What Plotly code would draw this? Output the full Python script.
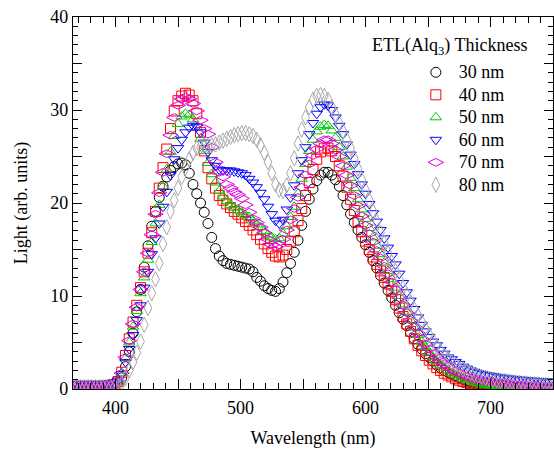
import plotly.graph_objects as go

# Wavelength grid (nm)
wavelength = list(range(366, 751, 3))

# Emission spectra (arb. units) for each ETL thickness
s30 = [0.3,0.3,0.3,0.3,0.3,0.3,0.3,0.3,0.3,0.35,0.4,0.5,
       0.7,1.2,2.4,4.0,6.0,8.3,10.7,13.1,15.4,17.5,19.1,20.6,
       21.8,22.8,23.5,23.9,24.2,24.3,24.1,23.2,22.0,21.0,20.0,19.0,
       17.8,16.3,15.1,14.3,13.8,13.5,13.4,13.3,13.2,13.1,13.0,12.9,
       12.6,12.0,11.6,11.1,10.8,10.6,10.5,10.8,11.5,12.5,13.5,14.7,
       16.0,17.6,19.1,20.4,21.5,22.4,23.0,23.3,23.3,23.0,22.5,21.8,
       20.8,19.8,18.8,17.9,17.1,16.3,15.5,14.7,13.8,13.0,12.2,11.4,
       10.6,9.8,9.0,8.2,7.5,6.8,6.1,5.4,4.8,4.3,3.8,3.4,
       3.0,2.6,2.3,2.0,1.8,1.6,1.4,1.2,1.05,0.9,0.8,0.7,
       0.6,0.55,0.5,0.45,0.4,0.35,0.3,0.3,0.25,0.25,0.2,0.2,
       0.2,0.2,0.15,0.15,0.15,0.1,0.1,0.1,0.1]

s40 = [0.3,0.3,0.3,0.3,0.3,0.3,0.3,0.3,0.3,0.35,0.4,0.5,
       0.8,1.8,3.6,5.4,7.2,9.0,10.9,12.6,14.6,16.8,19.1,21.6,
       23.8,25.8,28.0,29.9,31.0,31.5,31.8,31.6,31.0,29.6,27.6,25.6,
       23.8,22.6,21.6,20.8,20.3,19.9,19.5,19.1,18.8,18.4,18.0,17.6,
       17.1,16.6,16.1,15.6,15.1,14.7,14.3,14.2,14.4,15.0,15.9,16.9,
       18.1,19.4,20.8,22.2,23.6,24.7,25.5,25.9,25.9,25.6,25.0,24.0,
       22.9,21.7,20.4,19.2,18.0,16.9,15.9,15.0,14.2,13.4,12.7,12.0,
       11.3,10.5,9.6,8.7,7.8,7.0,6.2,5.4,4.7,4.1,3.6,3.1,
       2.7,2.3,2.0,1.7,1.5,1.3,1.1,0.95,0.8,0.7,0.6,0.5,
       0.4,0.35,0.3,0.3,0.25,0.2,0.2,0.15,0.15,0.1,0.1,0.1,
       0.1,0.1,0.1,0.05,0.05,0.05,0.05,0.05,0.05]

s50 = [0.3,0.3,0.3,0.3,0.3,0.3,0.3,0.3,0.3,0.35,0.4,0.5,
       0.8,1.7,3.3,5.0,6.7,8.4,10.3,12.0,13.9,15.8,17.8,19.8,
       21.8,23.6,25.5,27.2,28.5,29.3,29.6,29.5,29.0,28.1,26.9,25.6,
       24.3,23.1,22.2,21.3,20.7,20.2,19.8,19.5,19.2,19.0,18.7,18.5,
       18.1,17.7,17.4,17.0,16.6,16.3,16.1,16.2,16.7,17.5,18.5,19.6,
       21.0,22.6,24.2,25.6,26.8,27.7,28.2,28.4,28.3,27.8,27.0,26.0,
       25.0,23.9,22.7,21.6,20.4,19.3,18.3,17.3,16.3,15.4,14.5,13.6,
       12.7,11.8,10.9,10.0,9.1,8.3,7.4,6.6,5.8,5.1,4.5,3.9,
       3.4,3.0,2.6,2.3,2.0,1.7,1.5,1.3,1.1,0.95,0.8,0.7,
       0.6,0.5,0.45,0.4,0.35,0.3,0.25,0.2,0.2,0.15,0.15,0.15,
       0.1,0.1,0.1,0.1,0.1,0.1,0.1,0.1,0.1]

s60 = [0.5,0.5,0.5,0.5,0.5,0.5,0.5,0.5,0.5,0.55,0.6,0.7,
       0.9,1.6,2.9,4.3,5.8,7.4,9.0,10.9,12.6,14.5,16.2,17.8,
       19.6,21.2,23.0,24.7,25.9,26.8,27.6,28.1,28.3,28.2,27.6,26.5,
       25.5,24.6,24.0,23.6,23.5,23.5,23.5,23.4,23.3,23.2,23.0,22.6,
       22.2,21.7,21.1,20.4,19.6,18.8,18.1,17.8,18.2,19.3,20.6,21.9,
       23.2,24.6,26.0,27.4,28.6,29.6,30.3,30.6,30.5,30.0,29.2,28.3,
       27.4,26.3,25.2,24.2,23.1,22.0,21.0,19.9,18.9,18.0,17.1,16.2,
       15.2,14.3,13.4,12.4,11.4,10.4,9.5,8.6,7.7,6.9,6.2,5.6,
       5.1,4.7,4.2,3.8,3.4,3.2,2.9,2.7,2.4,2.2,2.0,1.85,
       1.7,1.6,1.5,1.45,1.4,1.3,1.25,1.2,1.15,1.1,1.05,1.0,
       1.0,0.95,0.9,0.9,0.85,0.85,0.8,0.8,0.8]

s70 = [0.3,0.3,0.3,0.3,0.3,0.3,0.3,0.3,0.3,0.35,0.4,0.5,
       0.8,1.7,3.4,5.2,7.0,8.8,10.7,12.6,14.6,16.6,18.8,21.1,
       23.3,25.3,27.3,29.2,30.5,31.2,31.4,31.2,30.7,29.9,28.9,28.0,
       27.4,26.0,24.4,23.3,22.8,22.0,21.6,21.2,20.9,20.5,19.8,19.0,
       18.3,17.9,17.4,16.8,16.1,15.5,15.3,15.5,16.1,17.1,18.2,19.4,
       20.6,21.7,23.0,24.2,25.1,25.8,26.4,26.8,26.8,26.4,25.7,25.0,
       24.0,23.0,21.9,20.8,19.7,18.6,17.6,16.7,15.8,14.9,14.1,13.2,
       12.4,11.5,10.7,9.8,9.0,8.2,7.4,6.7,6.0,5.4,4.8,4.3,
       3.8,3.4,3.0,2.7,2.4,2.1,1.9,1.7,1.5,1.35,1.2,1.1,
       1.0,0.9,0.85,0.8,0.75,0.7,0.65,0.6,0.55,0.5,0.5,0.45,
       0.4,0.4,0.35,0.35,0.3,0.3,0.3,0.25,0.25]

s80 = [0.2,0.2,0.2,0.2,0.2,0.2,0.2,0.2,0.2,0.2,0.2,0.2,
       0.3,0.6,1.2,2.0,2.9,3.9,5.1,6.9,8.7,10.3,11.8,13.5,
       15.6,17.4,19.1,20.3,21.6,22.8,23.8,24.7,25.4,25.9,26.0,26.1,
       26.1,26.2,26.3,26.5,26.7,26.9,27.1,27.3,27.4,27.5,27.5,27.4,
       27.2,26.8,26.2,25.4,24.4,23.2,22.0,21.4,21.3,21.9,23.2,24.8,
       26.4,27.9,29.2,30.3,31.1,31.5,31.6,31.5,31.1,30.3,29.5,28.6,
       27.7,26.8,25.9,24.8,23.7,22.5,21.4,20.3,19.1,18.0,16.8,15.7,
       14.6,13.6,12.7,11.8,10.9,10.1,9.3,8.6,7.9,7.2,6.5,5.8,
       5.2,4.6,4.1,3.6,3.2,2.9,2.6,2.3,2.1,1.9,1.7,1.55,
       1.4,1.3,1.2,1.1,1.0,0.95,0.9,0.85,0.8,0.75,0.7,0.65,
       0.6,0.6,0.55,0.5,0.5,0.45,0.45,0.4,0.4]

names = ["30 nm", "40 nm", "50 nm", "60 nm", "70 nm", "80 nm"]
series = [s30, s40, s50, s60, s70, s80]
colors = ["#000000", "#ff0000", "#00c800", "#0000ff", "#e000e0", "#a8a8a8"]
symbols = ["circle-open", "square-open", "triangle-up-open", "triangle-down-open",
           "diamond-wide-open", "diamond-tall-open"]
sizes = [10, 10, 10, 10, 11, 11]

FONT = "Liberation Serif"

fig = go.Figure()
for name, ys, c, sym, sz in zip(names, series, colors, symbols, sizes):
    fig.add_trace(go.Scatter(
        x=wavelength, y=ys, mode="markers",
        name='<span style="font-size:18px">' + name + '</span>',
        marker=dict(symbol=sym, size=sz, color=c, line=dict(width=1, color=c)),
    ))

axis_common = dict(
    showline=True, linecolor="black", linewidth=1.3, mirror="ticks",
    ticks="inside", tickcolor="black", tickwidth=1.3,
    showgrid=False, zeroline=False, automargin=False,
    tickfont=dict(family=FONT, size=18, color="black"),
)

fig.update_xaxes(
    range=[366, 750], tickmode="linear", tick0=0, dtick=50, ticklabelstep=2,
    ticklen=10, ticklabelstandoff=2,
    minor=dict(dtick=10, tick0=0, ticks="inside", ticklen=6, tickcolor="black", tickwidth=1.3, showgrid=False),
    title=dict(text="Wavelength (nm)", font=dict(family=FONT, size=18, color="black"), standoff=14),
    **axis_common,
)
fig.update_yaxes(
    range=[0, 40], tickmode="linear", tick0=0, dtick=5, ticklabelstep=2,
    ticklen=9,
    minor=dict(dtick=1, tick0=0, ticks="inside", ticklen=5, tickcolor="black", tickwidth=1.3, showgrid=False),
    title=dict(text="Light (arb. units)", font=dict(family=FONT, size=18, color="black"), standoff=17),
    **axis_common,
)

fig.add_annotation(
    text="ETL(Alq<sub>3</sub>) Thickness", xref="paper", yref="paper",
    x=0.785, y=0.922, xanchor="center", yanchor="middle", showarrow=False,
    font=dict(family=FONT, size=18, color="black"),
)

fig.update_layout(
    width=554, height=452,
    margin=dict(l=73, r=1, t=17, b=63),
    paper_bgcolor="white", plot_bgcolor="white",
    showlegend=True,
    legend=dict(
        x=0.708, y=0.895, xanchor="left", yanchor="top",
        bgcolor="rgba(0,0,0,0)", borderwidth=0,
        font=dict(family=FONT, size=15, color="black"),
        itemwidth=36,
    ),
)

# remove the default page margin so the figure sits at the window's top-left corner
fig.write_html("out.html", config={"displayModeBar": False},
               post_script="document.body.style.margin='0';")
